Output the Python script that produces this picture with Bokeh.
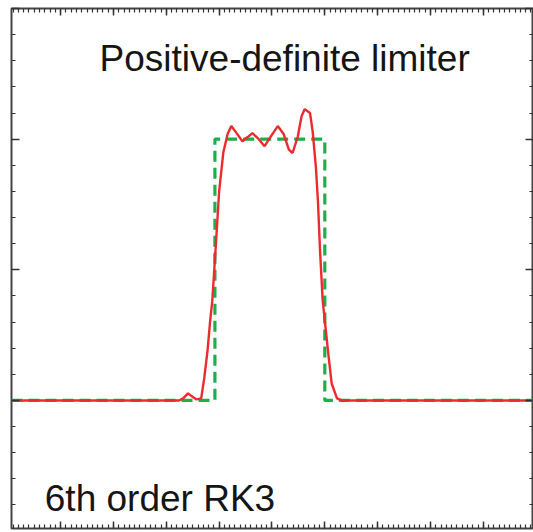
from bokeh.plotting import figure
from bokeh.models import Range1d, LinearAxis, Label, SingleIntervalTicker, CustomJSTickFormatter
from bokeh.embed import file_html
from bokeh.resources import INLINE

# exact square wave (green dashed)
exact_x = [-0.93, 2.92, 2.92, 5.0, 5.0, 8.95]
exact_y = [0.0, 0.0, 1.0, 1.0, 0.0, 0.0]

# numerical solution (red)
num_x = [-0.93, 2.24, 2.32, 2.41, 2.49, 2.57, 2.66, 2.72, 2.78, 2.83, 2.87, 2.93,
         3.0, 3.08, 3.16, 3.23, 3.33, 3.44, 3.54, 3.63, 3.75, 3.86, 3.97, 4.11,
         4.22, 4.32, 4.39, 4.49, 4.56, 4.62, 4.72, 4.77, 4.83, 4.87, 4.91, 4.96,
         5.02, 5.06, 5.13, 5.23, 5.32, 8.95]
num_y = [0.0, 0.0, 0.008, 0.027, 0.015, 0.004, 0.008, 0.088, 0.19, 0.305, 0.38, 0.57,
         0.80, 0.95, 1.02, 1.05, 1.023, 0.992, 1.008, 1.023, 1.0, 0.973, 1.008, 1.05,
         1.02, 0.96, 0.947, 1.011, 1.088, 1.115, 1.10, 1.03, 0.897, 0.763, 0.573, 0.382,
         0.267, 0.19, 0.065, 0.008, 0.0, 0.0]

title_text = "Positive-definite limiter"
scheme_text = "6th order RK3"

p = figure(width=533, height=532, output_backend="svg", toolbar_location=None,
           x_range=Range1d(-0.93, 8.95), y_range=Range1d(-0.49, 1.5),
           x_axis_location=None, y_axis_location=None,
           min_border_left=11, min_border_right=0, min_border_top=8, min_border_bottom=4)
p.grid.visible = False
p.outline_line_color = "#444444"
p.outline_line_width = 2
p.background_fill_color = "white"
p.border_fill_color = "white"

blank = CustomJSTickFormatter(code="return '';")

def style(ax, major, minor_n, maj_len, min_len):
    ax.ticker = SingleIntervalTicker(interval=major, num_minor_ticks=minor_n)
    ax.formatter = blank
    ax.major_tick_in = maj_len
    ax.major_tick_out = 0
    ax.minor_tick_in = min_len
    ax.minor_tick_out = 0
    ax.major_tick_line_color = "#333333"
    ax.minor_tick_line_color = "#333333"
    ax.major_tick_line_width = 1.5
    ax.minor_tick_line_width = 1.2
    ax.axis_line_color = None
    ax.major_label_standoff = 0
    ax.axis_label = None

for loc in ["left", "right"]:
    ax = LinearAxis()
    style(ax, 0.5, 5, 8, 4)
    p.add_layout(ax, loc)
for loc in ["below", "above"]:
    ax = LinearAxis()
    style(ax, 1, 10, 7, 4)
    p.add_layout(ax, loc)

p.line(exact_x, exact_y, line_color="#1fae4b", line_width=3.2, line_dash="11 6")
p.line(num_x, num_y, line_color="#ec2b2f", line_width=2.4)

p.add_layout(Label(x=4.24, y=1.309, text=title_text, text_align="center",
                   text_baseline="alphabetic", text_font="Liberation Sans",
                   text_font_size="37px", text_color="#151515"))
p.add_layout(Label(x=-0.30, y=-0.374, text=scheme_text, text_align="left",
                   text_baseline="alphabetic", text_font="Liberation Sans",
                   text_font_size="37px", text_color="#151515"))

open("out.html", "w").write(file_html(p, INLINE))
